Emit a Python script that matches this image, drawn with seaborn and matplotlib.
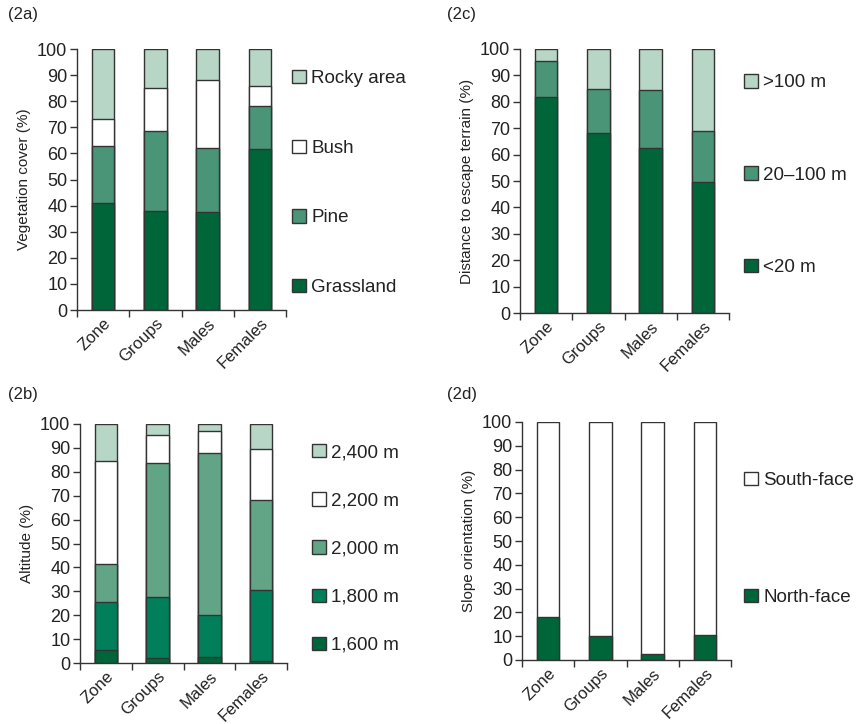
import numpy as np
import seaborn as sns
import matplotlib.pyplot as plt
from matplotlib.patches import Patch

# categories on the x axis (same for all panels)
cats = ["Zone", "Groups", "Males", "Females"]

# (2a) vegetation cover, % (bottom to top)
veg_labels = ["Grassland", "Pine", "Bush", "Rocky area"]
grassland = [41, 38, 37.5, 61.5]
pine = [22, 30.5, 24.5, 16.5]
bush = [10, 16.5, 26, 8]
rocky = [27, 15, 12, 14]

# (2b) altitude, %
alt_labels = ["1,600 m", "1,800 m", "2,000 m", "2,200 m", "2,400 m"]
alt_1600 = [5.5, 2, 2.5, 0.7]
alt_1800 = [20, 25.5, 17.5, 29.8]
alt_2000 = [16, 56, 68, 37.5]
alt_2200 = [43, 12, 9, 21.5]
alt_2400 = [15.5, 4.5, 3, 10.5]

# (2c) distance to escape terrain, %
dist_labels = ["<20 m", "20\u2013100 m", ">100 m"]
dist_lt20 = [82, 68, 62.5, 49.5]
dist_20_100 = [13.5, 17, 22, 19.5]
dist_gt100 = [4.5, 15, 15.5, 31]

# (2d) slope orientation, %
slope_labels = ["North-face", "South-face"]
north = [18, 10, 2.5, 10.5]
south = [82, 90, 97.5, 89.5]

dark = "#00663a"
mid = "#4a9577"
light = "#b7d6c6"
teal = "#007f5a"
sage = "#62a586"
edge = "#333333"

sns.set_theme(style="ticks")
plt.rcParams["font.family"] = ["Liberation Sans", "DejaVu Sans"]

W, H = 860, 724
fig = plt.figure(figsize=(W / 100, H / 100), dpi=100)


def add_ax(left, right, top, bottom):
    return fig.add_axes([left / W, 1 - bottom / H, (right - left) / W, (bottom - top) / H])


def stacked(ax, layers, colors, ylabel):
    cum = np.cumsum(np.array(layers), axis=0)
    # draw tallest first so lower segments sit on top
    for i in range(len(layers) - 1, -1, -1):
        sns.barplot(x=cats, y=cum[i], color=colors[i], saturation=1, width=0.43,
                    edgecolor=edge, linewidth=1, ax=ax)
    ax.set_ylim(0, 100)
    ax.set_xlim(-0.5, 3.5)
    ax.set_yticks(range(0, 101, 10))
    ax.set_ylabel(ylabel, fontsize=11, color="#222", labelpad=4)
    ax.set_xlabel("")
    ax.set_xticks(range(4))
    ax.set_xticklabels(cats, rotation=45, ha="right", rotation_mode="anchor",
                       fontsize=12, color="#222")
    ax.set_xticks(np.arange(-0.5, 4, 1), minor=True)
    ax.tick_params(axis="x", which="major", length=0, pad=4)
    ax.tick_params(axis="x", which="minor", length=5, width=1, color=edge)
    ax.tick_params(axis="y", length=5, width=1, color=edge, labelsize=13,
                   labelcolor="#222", pad=2)
    sns.despine(ax=ax)
    for s in ["left", "bottom"]:
        ax.spines[s].set_color(edge)
        ax.spines[s].set_linewidth(1)


def legend(labels, colors, x, yc, spacing):
    handles = [Patch(facecolor=c, edgecolor=edge, linewidth=1, label=l)
               for l, c in zip(labels, colors)][::-1]
    leg = fig.legend(handles=handles, loc="center left", bbox_to_anchor=(x / W, 1 - yc / H),
                     frameon=False, fontsize=13.5, handlelength=0.72, handleheight=0.72,
                     handletextpad=0.3, borderpad=0, borderaxespad=0, labelspacing=spacing)
    for t in leg.get_texts():
        t.set_color("#222")


ax_a = add_ax(77, 286, 49, 310)
stacked(ax_a, [grassland, pine, bush, rocky], [dark, mid, "white", light], "Vegetation cover (%)")
legend(veg_labels, [dark, mid, "white", light], 292, 183, 2.8)

ax_c = add_ax(520, 729, 49, 313)
stacked(ax_c, [dist_lt20, dist_20_100, dist_gt100], [dark, mid, light], "Distance to escape terrain (%)")
legend(dist_labels, [dark, mid, light], 744, 175, 4.0)

ax_b = add_ax(80, 287, 424, 663)
stacked(ax_b, [alt_1600, alt_1800, alt_2000, alt_2200, alt_2400],
        [dark, teal, sage, "white", light], "Altitude (%)")
legend(alt_labels, [dark, teal, sage, "white", light], 312, 549, 1.65)

ax_d = add_ax(522, 731, 422, 660)
stacked(ax_d, [north, south], [dark, "white"], "Slope orientation (%)")
legend(slope_labels, [dark, "white"], 744, 539, 5.3)

for txt, x, y in [("(2a)", 8, 15), ("(2c)", 447, 15), ("(2b)", 8, 395), ("(2d)", 447, 395)]:
    fig.text(x / W, 1 - y / H, txt, fontsize=12, va="center", ha="left", color="#222")

fig.savefig("out.png", dpi=100)
